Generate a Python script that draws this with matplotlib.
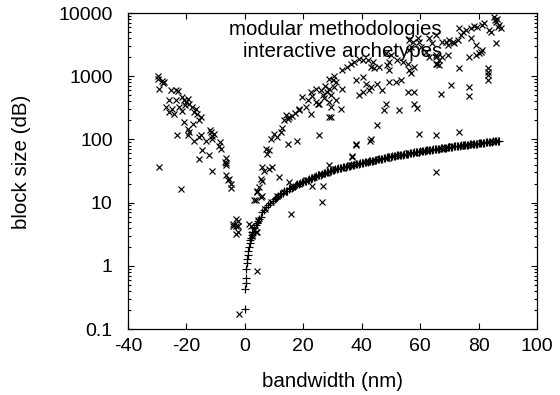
import matplotlib
matplotlib.use("Agg")
import matplotlib.pyplot as plt
from matplotlib.ticker import LogLocator, FixedLocator, NullFormatter

plt.rcParams['font.family'] = ['Liberation Sans', 'DejaVu Sans']

# ---- series 1: "modular methodologies" (+) ----
mod_x = [0.0, 0.2, 0.3, 0.4, 0.5, 0.7, 0.8, 1.0, 1.2, 1.4, 1.6, 1.8, 2.0, 2.3, 2.6,
         3.0, 3.3, 3.7, 4.0, 4.5, 5.0, 5.5, 6.0, 6.6, 7.2, 8.0, 8.7, 9.5, 10.3, 11.0,
         12, 13, 14, 15, 16, 17, 18, 19, 20, 21, 22, 23, 24, 25, 26, 27, 28, 29, 30,
         31, 32, 33, 34, 35, 36, 37, 38, 39, 40, 41, 42, 43, 44, 45, 46, 47, 48, 49,
         50, 51, 52, 53, 54, 55, 56, 57, 58, 59, 60, 61, 62, 63, 64, 65, 66, 67, 68,
         69, 70, 71, 72, 73, 74, 75, 76, 77, 78, 79, 80, 81, 82, 83, 84, 85, 86, 87]
mod_y = [0.21, 0.43, 0.54, 0.65, 0.9, 1.1, 1.3, 1.5, 1.7, 2.0, 2.3, 2.6, 2.8, 3.1, 3.4,
         3.9, 4.1, 4.5, 4.8, 5.1, 5.5, 6.0, 7.2, 7.6, 8.4, 9.0, 9.8, 10.5, 11.6, 12.3,
         13.5, 14.3, 15.2, 16.4, 17.0, 18.3, 19.4, 20.1, 21.5, 22.0, 23.6, 24.8, 25.5,
         27.0, 27.8, 29.0, 30.5, 31.5, 32.6, 33.4, 34.8, 35.6, 36.1, 37.4, 38.0, 39.5,
         40.2, 41.0, 42.3, 43.5, 44.0, 45.6, 46.3, 47.5, 48.8, 49.5, 51.0, 52.2, 53.4,
         54.0, 55.8, 56.5, 57.3, 58.9, 59.6, 61.0, 62.3, 63.1, 64.5, 65.2, 66.8, 67.5,
         68.9, 70.2, 71.0, 72.4, 73.5, 74.1, 75.8, 76.5, 78.0, 78.9, 80.2, 81.0, 82.5,
         83.6, 84.2, 85.8, 86.5, 88.0, 89.1, 90.3, 91.5, 93.0, 94.2, 96.0]
mod2_x = [10.5, 11.5, 12.5, 13.5, 14.5, 15.5, 16.5, 17.5, 18.5, 19.5, 20.5, 21.5, 22.5,
          23.5, 24.5, 25.5, 26.5, 27.5, 28.5, 29.5, 30.5, 31.5, 32.5, 33.5, 34.5, 35.5,
          36.5, 37.5, 38.5, 39.5, 40.5, 41.5, 42.5, 43.5, 44.5, 45.5, 46.5, 47.5, 48.5,
          49.5, 50.5, 51.5, 52.5, 53.5, 54.5, 55.5, 56.5, 57.5, 58.5, 59.5, 60.5, 61.5,
          62.5, 63.5, 64.5, 65.5, 66.5, 67.5, 68.5, 69.5, 70.5, 71.5, 72.5, 73.5, 74.5,
          75.5, 76.5, 77.5, 78.5, 79.5, 80.5, 81.5, 82.5, 83.5, 84.5, 85.5, 86.5]
mod2_y = [12.0, 12.9, 13.6, 15.0, 15.5, 16.9, 17.4, 19.0, 19.6, 21.0, 21.8, 23.0, 23.9,
          25.3, 26.0, 27.2, 28.6, 29.5, 31.0, 31.8, 33.2, 34.0, 35.4, 36.0, 37.1, 37.6,
          39.0, 40.0, 41.2, 41.8, 43.0, 44.1, 45.0, 46.2, 47.0, 48.5, 49.0, 50.4, 51.8,
          52.5, 54.1, 55.0, 56.0, 57.2, 58.0, 59.4, 60.6, 61.5, 62.7, 63.8, 64.9, 66.2,
          67.0, 68.4, 69.5, 70.8, 71.6, 73.0, 74.0, 75.2, 76.0, 77.6, 78.4, 79.8, 80.5,
          81.9, 83.0, 84.0, 85.2, 86.0, 87.6, 88.3, 89.9, 91.0, 92.0, 93.8, 95.0]

# ---- series 2: "interactive archetypes" (x) ----
# left branch
arch_left_x = [-29.9, -27.6, -29.3, -25.3, -23.6, -21.4, -25.9, -23.6, -20.2, -19.1,
               -27.0, -24.8, -22.5, -16.8, -17.4, -25.9, -24.2, -21.6, -15.1, -15.6,
               -20.8, -17.9, -19.6, -19.1, -23.1, -19.6, -17.4, -15.6, -15.1, -11.6,
               -10.5, -13.4, -11.1, -14.5, -12.2, -8.8, -8.2, -15.6, -6.7, -6.5,
               -11.1, -6.5, -5.9, -4.8, -29.3, -21.9,
               -29.6, -28.0, -28.2, -22.8, -21.0, -20.5, -19.5, -18.0, -16.5, -11.8,
               -11.4, -8.5, -6.6, -6.3, -5.3, -4.6]
arch_left_y = [1000, 813, 638, 600, 615, 469, 416, 427, 391, 369,
               326, 307, 326, 307, 271, 271, 256, 282, 226, 200,
               188, 177, 148, 131, 116, 116, 96, 109, 116, 131,
               123, 96, 101, 67, 56, 80, 71, 49, 44, 39,
               32, 27, 22.4, 19.8, 36, 16.5,
               900, 780, 850, 590, 420, 350, 440, 330, 250, 140,
               115, 90, 50, 42, 24, 17]
# around zero
arch_zero_x = [-3.1, -3.1, -3.1, -4.2, -2.5, -2.5, -2.5, -4.2, -2.0, 1.5, 4.3, 4.3,
               2.0, 2.6, 2.6, 3.8]
arch_zero_y = [5.6, 4.3, 3.2, 4.6, 5.2, 4.3, 3.4, 4.3, 0.17, 4.6, 0.83, 3.4,
               4.3, 3.2, 3.0, 3.4]
# right branch
arch_right_x = [3.2, 5.5, 4.3, 4.9, 6.0, 5.5, 6.0, 8.3, 9.4, 6.6, 11.7, 15.2, 23.1, 26.6,
                26.4, 15.7, 7.2, 8.3, 7.7, 10.0, 12.3, 14.6, 18.0, 14.0, 15.2, 14.6,
                16.3, 18.6, 20.9, 22.6, 24.9, 28.9, 29.4, 25.4, 28.9, 13.5, 19.7, 22.6,
                24.3, 26.0, 26.6, 24.3, 25.4, 18.6, 4.3, 6.0, 3.8,
                28.9, 30.0, 31.2, 30.6, 33.4, 35.1, 36.3, 37.4, 39.1, 40.3, 42.0, 43.7,
                43.1, 44.3, 46.0, 28.9, 30.6, 29.4, 31.2, 29.4, 28.9, 32.9, 33.4, 38.0,
                40.3, 39.1, 40.3, 41.4, 42.6, 43.1, 45.4, 47.1, 49.4, 51.7, 53.4, 47.7,
                48.2, 52.8, 55.7, 58.0, 58.0, 58.8, 45.4, 59.7, 37.9, 43.1, 36.8, 65.4,
                48.3, 50.0, 52.2, 54.0, 55.7, 48.8, 49.4, 56.2, 56.8, 58.0, 49.4, 56.2,
                59.7, 63.1, 56.2, 57.4, 59.1, 63.1, 65.4, 56.8, 60.2, 62.0, 65.4, 65.9,
                85.3, 85.9, 87.0, 87.6, 86.5, 81.3, 81.9, 83.6, 84.2, 77.4, 78.5, 79.6,
                75.7, 74.5, 73.4, 73.9, 72.8, 71.7, 71.1, 69.9, 68.8, 77.4, 79.1, 85.9,
                81.3, 80.2, 79.1, 76.8, 80.8, 83.1, 83.1, 83.1, 83.1, 73.4, 70.5, 76.8,
                76.8, 67.1, 73.4, 67.6, 69.4, 64.2, 65.4, 66.5, 65.4, 66.5, 67.6, 69.4,
                86.2, 85.6, 38.0, 43.0, 36.8, 65.4,
                27.5, 28.0, 27.0, 21.5, 23.0, 17.0, 12.8, 9.0, 11.0]
arch_right_y = [10.8, 12.1, 15.5, 17.5, 22.3, 23.8, 36.3, 34.3, 36.3, 32.2, 25.2, 21.0,
                18.6, 18.0, 10.1, 6.6, 71, 67, 59, 123, 131, 85, 94, 240, 226, 213,
                232, 307, 326, 256, 369, 391, 226, 116, 39, 200, 469, 564,
                638, 600, 499, 391, 369, 289, 14.6, 12.9, 10.8,
                919, 865, 813, 1000, 1245, 1406, 1586, 1687, 1841, 1795, 1795, 1687,
                1406, 1324, 1406, 638, 676, 499, 416, 326, 226, 307, 638, 865,
                975, 499, 564, 766, 600, 676, 766, 600, 813, 813, 865, 289,
                369, 289, 564, 564, 369, 318, 167, 123, 85, 102, 52, 116,
                2290, 2155, 1795, 1687, 1586, 1495, 1245, 1245, 1127, 1406, 1687, 2587,
                3505, 2024, 3725, 3505, 3966, 3966, 4477, 2917, 2917, 2432, 2024, 1586,
                8730, 7280, 6450, 5710, 6060, 6450, 6870, 5370, 5050, 5710, 6220, 6060,
                5370, 5050, 5710, 4477, 3725, 3305, 3505, 3725, 3505, 3966, 3105, 3305,
                2587, 2290, 2155, 2024, 2432, 1324, 1170, 1037, 865, 1324, 720, 676,
                482, 531, 131, 3505, 3105, 3305, 2155, 1795, 1586, 1495, 2024, 2155,
                8000, 7800, 83, 96, 54, 30,
                700, 560, 450, 420, 480, 260, 150, 100, 110]
# points lying on the lower curve
arch_curve_x = [3, 4.5, 7, 9, 11, 13.5, 16, 18.5, 21, 23.5, 26, 28, 31, 33.5, 36, 38.5,
                41, 43.5, 46, 48.5, 51, 53.5, 56, 58.5, 61, 63.5, 66, 68.5, 71, 73.5,
                76, 78.5, 81, 83.5, 86]
arch_curve_y = [3.7, 5.3, 8.0, 10.2, 12.6, 14.6, 17.5, 19.5, 22.6, 25.0, 28.3, 29.8,
                34.0, 35.5, 38.8, 40.4, 44.0, 45.5, 49.2, 51.0, 55.0, 56.4, 60.3, 62.0,
                66.0, 68.0, 71.5, 73.2, 77.5, 79.0, 83.0, 84.5, 89.0, 90.5, 95.0]

legend_labels = ["modular methodologies", "interactive archetypes"]
x_ticks = [-40, -20, 0, 20, 40, 60, 80, 100]
y_ticks = [0.1, 1, 10, 100, 1000, 10000]
y_tick_labels = ["0.1", "1", "10", "100", "1000", "10000"]

W, H = 560, 395
fig = plt.figure(figsize=(W / 100, H / 100), dpi=100)
ax = fig.add_axes([128 / W, 1 - 329 / H, (537 - 128) / W, (329 - 13) / H])

mew = 0.85
ax.plot(mod_x + mod2_x, mod_y + mod2_y, linestyle='none', marker='+', ms=5.2, mew=mew,
        color='black')
ax.plot(arch_left_x + arch_zero_x + arch_right_x + arch_curve_x,
        arch_left_y + arch_zero_y + arch_right_y + arch_curve_y,
        linestyle='none', marker='x', ms=4.4, mew=mew, color='black')

ax.set_yscale('log')
ax.set_xlim(-40, 100)
ax.set_ylim(0.1, 10000)
ax.xaxis.set_major_locator(FixedLocator(x_ticks))
ax.set_xticklabels([str(t) for t in x_ticks])
ax.yaxis.set_major_locator(FixedLocator(y_ticks))
ax.set_yticklabels(y_tick_labels)
ax.yaxis.set_minor_locator(LogLocator(base=10, subs=range(2, 10)))
ax.yaxis.set_minor_formatter(NullFormatter())

for s in ax.spines.values():
    s.set_linewidth(0.9)
ax.tick_params(which='both', direction='in', top=True, right=True, width=0.8,
               labelsize=14, colors='black')
ax.tick_params(which='major', length=4.5)
ax.tick_params(which='minor', length=2.3)
ax.tick_params(axis='y', pad=11)
ax.tick_params(axis='x', pad=6.5)

fs = 14.8
fig.text(442 / W, 1 - 35 / H, legend_labels[0], ha='right', va='baseline', fontsize=fs)
fig.text(442 / W, 1 - 57 / H, legend_labels[1], ha='right', va='baseline', fontsize=fs)
fig.text(333 / W, 1 - 387 / H, "bandwidth (nm)", ha='center', va='baseline', fontsize=fs)
fig.text(22 / W, 1 - 162 / H, "block size (dB)", ha='center', va='center',
         rotation=90, fontsize=fs)

fig.savefig("out.png", dpi=100, facecolor='white')
